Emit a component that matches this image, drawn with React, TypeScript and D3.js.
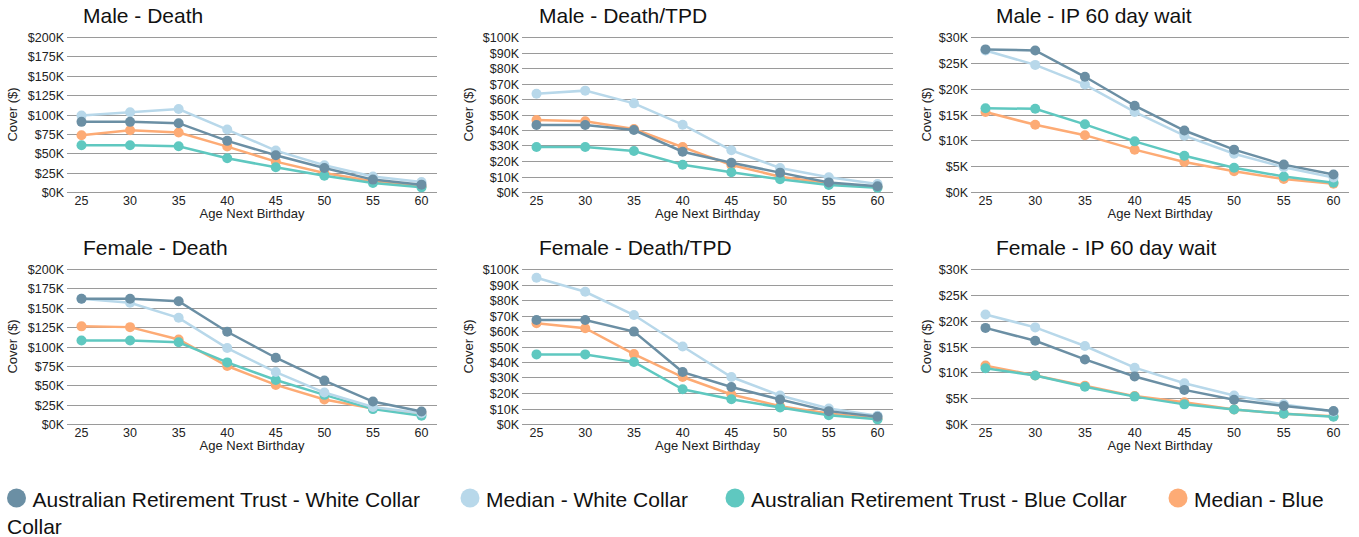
import React from 'react';
import * as d3 from 'd3';

// values in $K, series order: ART white, median white, ART blue, median blue
const ages = [25, 30, 35, 40, 45, 50, 55, 60];

const seriesNames = [
  'Australian Retirement Trust - White Collar',
  'Median - White Collar',
  'Australian Retirement Trust - Blue Collar',
  'Median - Blue',
];
const seriesColors = ['#6b8fa4', '#b8d8ea', '#5fc8c0', '#fdab75'];

const maleDeath = [
  [90.5, 90.5, 88.8, 66, 47.4, 31, 16, 9.5],
  [98.7, 103, 107, 80.6, 53.4, 34.5, 20, 13],
  [60.3, 60.3, 59, 43.5, 31.9, 21.1, 11.6, 6],
  [73.3, 79.7, 76.7, 58.6, 39.2, 24.6, 13.8, 7.3],
];
const maleTpd = [
  [43.2, 43.2, 40, 26, 18.9, 12.5, 6.2, 3.7],
  [63.4, 65.4, 57.2, 43.4, 26.9, 15.5, 9.5, 5.2],
  [29, 29, 26.5, 17.6, 12.7, 8.2, 4.5, 2.8],
  [46.5, 45.6, 40.6, 29, 17.4, 9.9, 5.6, 3.2],
];
const maleIp = [
  [27.6, 27.4, 22.3, 16.7, 11.9, 8.2, 5.3, 3.4],
  [27.4, 24.6, 20.8, 15.5, 10.9, 7.4, 4.8, 2.8],
  [16.2, 16.1, 13.1, 9.8, 7.0, 4.7, 3.0, 1.8],
  [15.5, 13.0, 11.0, 8.2, 5.8, 4.0, 2.5, 1.6],
];
const femaleDeath = [
  [161.5, 161.5, 158.5, 119, 85.5, 56, 29, 16.2],
  [161.5, 156.4, 137, 98, 67, 40.6, 22, 14],
  [107.7, 107.7, 105.5, 79.5, 56.8, 37.6, 19.2, 10.7],
  [126, 125, 109, 74.8, 50.4, 31.6, 20, 13.7],
];
const femaleTpd = [
  [67.1, 67.1, 59.6, 33.5, 23.9, 15.8, 8.3, 4.7],
  [94.4, 85.3, 70.3, 50, 30.3, 18.4, 10, 5.3],
  [44.9, 44.9, 40, 22.4, 16, 10.7, 5.6, 3],
  [65, 61.8, 45.1, 30.3, 19, 11.5, 6.8, 3.6],
];
const femaleIp = [
  [18.6, 16.1, 12.5, 9.2, 6.6, 4.7, 3.5, 2.5],
  [21.2, 18.7, 15.1, 10.9, 7.9, 5.5, 3.8, 2.4],
  [10.8, 9.4, 7.2, 5.3, 3.8, 2.8, 2.0, 1.4],
  [11.3, 9.4, 7.4, 5.4, 4.2, 2.8, 2.0, 1.5],
];

const deathTicks = [0, 25, 50, 75, 100, 125, 150, 175, 200];
const tpdTicks = [0, 10, 20, 30, 40, 50, 60, 70, 80, 90, 100];
const ipTicks = [0, 5, 10, 15, 20, 25, 30];

const titles = [
  ['Male - Death', 'Male - Death/TPD', 'Male - IP 60 day wait'],
  ['Female - Death', 'Female - Death/TPD', 'Female - IP 60 day wait'],
];
const grid = [
  [maleDeath, maleTpd, maleIp],
  [femaleDeath, femaleTpd, femaleIp],
];
const tickSets = [deathTicks, tpdTicks, ipTicks];

const W = 1359;
const H = 537;
const font = '"Liberation Sans", Arial, sans-serif';

const colLeft = [67, 522, 971];
const colRight = [437, 893, 1349];
const titleX = [83, 539, 996];
const coverOffset = [55, 54, 45];
const rowTop = [37, 269];
const rowBottom = [192, 424];

const drawOrder = [3, 2, 1, 0];

function Panel({ row, col }: { row: number; col: number }) {
  const data = grid[row][col];
  const ticks = tickSets[col];
  const left = colLeft[col];
  const right = colRight[col];
  const top = rowTop[row];
  const bottom = rowBottom[row];

  const x = d3.scalePoint<number>().domain(ages).range([left + 14.5, right - 15.5]);
  const y = d3.scaleLinear().domain([0, ticks[ticks.length - 1]]).range([bottom, top]);
  const line = d3
    .line<number>()
    .x((_, i) => x(ages[i])!)
    .y(d => y(d));

  return (
    <g>
      <text x={titleX[col]} y={top - 14} fontSize={21} fill="#111">
        {titles[row][col]}
      </text>
      {ticks.map(t => {
        const yy = Math.round(y(t)) + 0.5;
        return (
          <g key={t}>
            <line x1={left} x2={right} y1={yy} y2={yy} stroke="#9a9a9a" strokeWidth={1} />
            <text x={left - 3} y={yy} dy="0.35em" textAnchor="end" fontSize={12.5} fill="#222">
              {`$${t}K`}
            </text>
          </g>
        );
      })}
      {ages.map(a => (
        <text key={a} x={x(a)} y={bottom + 13} textAnchor="middle" fontSize={12.5} fill="#222">
          {a}
        </text>
      ))}
      <text x={(left + right) / 2} y={bottom + 26} textAnchor="middle" fontSize={13} fill="#222">
        Age Next Birthday
      </text>
      <text
        transform={`translate(${left - coverOffset[col]},${(top + bottom) / 2}) rotate(-90)`}
        textAnchor="middle"
        dy="0.35em"
        fontSize={13}
        fill="#222"
      >
        Cover ($)
      </text>
      {drawOrder.map(s => (
        <g key={s}>
          <path d={line(data[s]) || ''} fill="none" stroke={seriesColors[s]} strokeWidth={2.5} />
          {data[s].map((v, i) => (
            <circle key={i} cx={x(ages[i])} cy={y(v)} r={5} fill={seriesColors[s]} />
          ))}
        </g>
      ))}
    </g>
  );
}

const legendCircleX = [16.5, 470, 735, 1178];

export default function App() {
  return (
    <svg
      width={W}
      height={H}
      style={{ position: 'absolute', left: 0, top: 0, background: '#fff' }}
      fontFamily={font}
    >
      {[0, 1].map(r => [0, 1, 2].map(c => <Panel key={`${r}-${c}`} row={r} col={c} />))}
      {seriesNames.map((name, i) => (
        <g key={name}>
          <circle cx={legendCircleX[i]} cy={498} r={9.5} fill={seriesColors[i]} />
          <text x={legendCircleX[i] + 16} y={507} fontSize={21} fill="#111">
            {name}
          </text>
        </g>
      ))}
      <text x={7} y={534} fontSize={21} fill="#111">
        Collar
      </text>
    </svg>
  );
}
